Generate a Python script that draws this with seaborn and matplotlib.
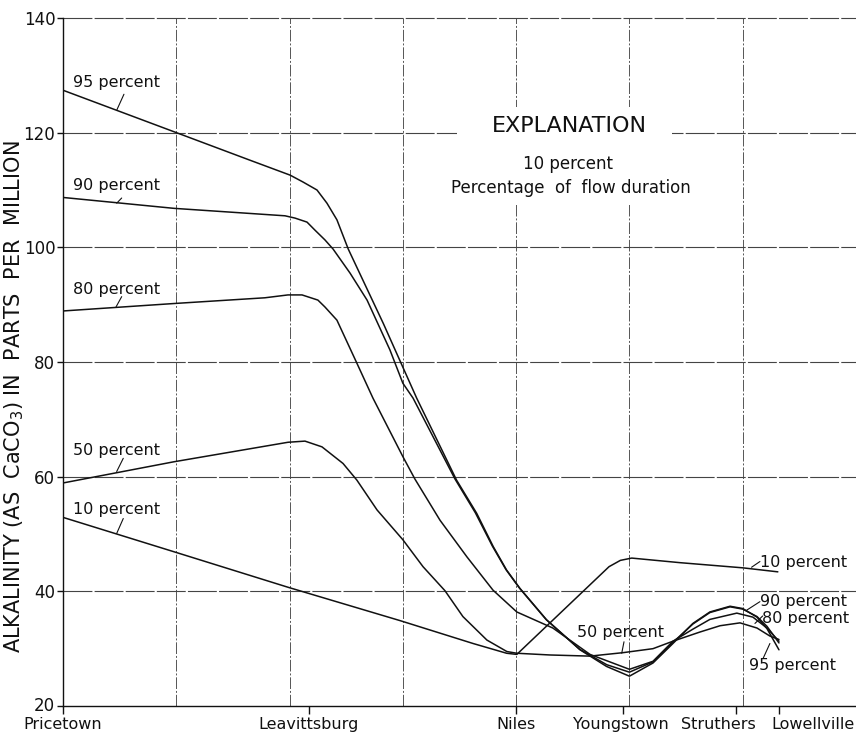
import numpy as np
import pandas as pd
import matplotlib
matplotlib.use("Agg")
import matplotlib.pyplot as plt
import matplotlib.transforms as mtransforms
from matplotlib.patches import Rectangle
import seaborn as sns

# Gaging stations along the river, distance downstream in miles
stations = ["Pricetown", "Leavittsburg", "Niles", "Youngstown", "Struthers", "Lowellville"]
station_miles = [0.0, 10.86, 20.0, 24.72, 29.7, 31.6]

# Alkalinity (as CaCO3, ppm) profiles for several flow-duration percentages
mi_95 = [0, 4.94, 8.25, 10.02, 10.59, 11.21, 11.65, 12.09, 12.59, 14.14, 15.61,
         17.37, 18.26, 18.99, 19.58, 20.17, 21.35, 22.82, 23.99, 25.0, 26.04,
         26.92, 27.8, 28.55, 29.44, 30.0, 30.63, 31.07, 31.6]
alk_95 = [127.4, 120.1, 115.2, 112.6, 111.4, 110.0, 107.7, 104.8, 99.7, 86.7, 73.7,
          59.4, 53.6, 47.8, 43.7, 40.5, 35.0, 29.8, 26.9, 25.2, 27.5,
          30.9, 34.4, 36.4, 37.4, 37.0, 35.5, 33.5, 29.8]

mi_90 = [0, 4.9, 9.8, 10.24, 10.77, 11.12, 11.56, 11.92, 12.67, 13.42, 14.43, 15.0,
         15.45, 17.3, 18.2, 18.95, 19.55, 20.14, 21.32, 22.8, 24.0, 25.0, 26.04,
         26.92, 27.8, 28.55, 29.44, 30.0, 30.63, 31.07, 31.6]
alk_90 = [108.7, 106.8, 105.5, 105.1, 104.4, 103.0, 101.3, 99.7, 95.5, 90.8, 82.1, 76.3,
          73.7, 59.6, 53.7, 47.9, 43.8, 40.6, 35.1, 29.9, 27.2, 25.9, 27.7,
          31.1, 34.3, 36.3, 37.3, 36.9, 35.6, 33.9, 31.0]

mi_80 = [0, 4.9, 8.91, 9.93, 10.55, 11.25, 11.56, 12.09, 12.97, 13.68, 15.0, 15.53,
         16.64, 17.83, 18.98, 20.03, 21.62, 23.26, 25.0, 26.04, 26.92, 27.8, 28.55,
         29.74, 30.45, 31.07, 31.6]
alk_80 = [88.9, 90.2, 91.2, 91.7, 91.7, 90.8, 89.6, 87.3, 79.8, 73.7, 63.5, 59.6,
          52.4, 46.0, 40.2, 36.4, 33.6, 29.0, 26.4, 27.8, 31.3, 33.4, 35.1,
          36.2, 35.5, 33.6, 31.3]

mi_50 = [0, 4.9, 9.93, 10.68, 11.43, 12.36, 12.97, 13.86, 15.0, 15.89, 16.86, 17.65,
         18.71, 19.59, 20.03, 21.49, 23.26, 24.71, 26.04, 26.92, 28.11, 29.0, 29.88,
         30.63, 31.2, 31.6]
alk_50 = [58.9, 62.6, 66.0, 66.2, 65.2, 62.3, 59.4, 54.2, 49.0, 44.3, 40.1, 35.6,
          31.5, 29.5, 29.2, 28.9, 28.7, 29.3, 30.0, 31.3, 32.9, 34.0, 34.5,
          33.6, 32.2, 31.6]

mi_10 = [0, 4.9, 9.94, 14.87, 18.1, 19.58, 20.03, 24.1, 24.6, 25.1, 27.23, 30.0, 31.55]
alk_10 = [52.9, 46.9, 40.7, 34.9, 30.9, 29.2, 29.0, 44.3, 45.4, 45.8, 45.0, 44.1, 43.4]

series = {
    "95 percent": (mi_95, alk_95),
    "90 percent": (mi_90, alk_90),
    "80 percent": (mi_80, alk_80),
    "50 percent": (mi_50, alk_50),
    "10 percent": (mi_10, alk_10),
}

df = pd.concat(
    [pd.DataFrame({"mile": m, "alk": a, "duration": name}) for name, (m, a) in series.items()],
    ignore_index=True,
)

sns.set_theme(style="white")
plt.rcParams["font.family"] = ["DejaVu Sans"]
plt.rcParams["mathtext.fontset"] = "dejavusans"

fig = plt.figure(figsize=(8.56, 7.37), dpi=100)
ax = fig.add_axes([63 / 856, 31 / 737, 793 / 856, 688 / 737])

sns.lineplot(
    data=df, x="mile", y="alk", hue="duration", units="duration",
    estimator=None, sort=False, palette={k: "#111111" for k in series},
    linewidth=1.1, legend=False, ax=ax, zorder=3,
)

ax.set_xlim(0, 35)
ax.set_ylim(20, 140)
ax.set_xlabel("")
ax.set_ylabel("")

# Station ticks on the bottom axis; grid every 5 miles
ax.set_xticks(station_miles)
ax.set_xticklabels(stations, fontsize=11.5, color="#111111")
ax.set_xticks(np.arange(0, 36, 5), minor=True)
ax.tick_params(axis="x", which="major", direction="out", length=6, width=1.0,
               color="#111111", pad=1.6, bottom=True)
ax.tick_params(axis="x", which="minor", length=0)
ax.set_yticks(np.arange(20, 141, 20))
ax.tick_params(axis="y", direction="out", length=4, width=1.0, color="#111111",
               labelsize=12, pad=1.5, left=True, labelcolor="#111111")

# Nudge crowded station names apart
for lab, dx in zip(ax.get_xticklabels(), [0, 0, 0, -2, -18, 34]):
    lab.set_transform(lab.get_transform() + mtransforms.ScaledTranslation(dx / 100, 0, fig.dpi_scale_trans))
# Lift the lowest value label a touch so it clears the station name below
ylabs = ax.get_yticklabels()
ylabs[0].set_transform(ylabs[0].get_transform() + mtransforms.ScaledTranslation(0, 2 / 100, fig.dpi_scale_trans))

ax.grid(False)
for xv in np.arange(5, 35, 5):
    ax.axvline(xv, color="#555555", lw=0.7, ls=(0, (12, 2, 2, 2)), zorder=1)
for yv in np.arange(40, 141, 20):
    ax.axhline(yv, color="#444444", lw=0.8, ls=(0, (26, 2)), zorder=1, clip_on=False)

for s in ["top", "right"]:
    ax.spines[s].set_visible(False)
for s in ["left", "bottom"]:
    ax.spines[s].set_color("#111111")
    ax.spines[s].set_linewidth(1.0)

# Explanation block
ax.add_patch(Rectangle((17.39, 107.4), 9.49, 17.0, facecolor="white", edgecolor="none", zorder=2))
ax.text(22.33, 121.2, "EXPLANATION", fontsize=16, ha="center", va="center", color="#111111", zorder=4)
ax.text(22.29, 114.6, "10 percent", fontsize=12, ha="center", va="center", color="#111111", zorder=4)
ax.text(22.42, 110.3, "Percentage  of  flow duration", fontsize=12, ha="center", va="center",
        color="#111111", zorder=4)

# Curve labels with short leader lines
labels = [
    ("95 percent", 0.44, 128.7, (2.69, 126.7), (2.38, 124.0)),
    ("90 percent", 0.44, 110.7, (2.59, 108.6), (2.37, 107.7)),
    ("80 percent", 0.44, 92.7, (2.59, 91.4), (2.34, 89.6)),
    ("50 percent", 0.44, 64.6, (2.66, 63.2), (2.37, 60.9)),
    ("10 percent", 0.44, 54.2, (2.66, 52.7), (2.37, 50.1)),
    ("10 percent", 30.76, 45.1, (30.76, 45.2), (30.39, 44.2)),
    ("90 percent", 30.76, 38.2, (30.76, 38.2), (30.17, 36.7)),
    ("80 percent", 30.85, 35.3, (30.88, 35.7), (30.54, 34.4)),
    ("95 percent", 30.27, 27.1, (30.9, 28.3), (31.2, 30.9)),
    ("50 percent", 22.67, 32.8, (24.76, 31.2), (24.66, 29.2)),
]
for txt, tx, ty, p0, p1 in labels:
    ax.text(tx, ty, txt, fontsize=11.5, ha="left", va="center", color="#111111", zorder=4)
    ax.annotate("", xy=p1, xytext=p0,
                arrowprops=dict(arrowstyle="-", color="#111111", lw=0.8, shrinkA=0, shrinkB=0),
                zorder=4)

fig.text(14 / 856, 1 - 397 / 737, r"ALKALINITY (AS  CaCO$_3$) IN  PARTS  PER  MILLION",
         rotation=90, fontsize=15, ha="center", va="center", color="#111111")

fig.savefig("out.png", dpi=100, facecolor="white")
